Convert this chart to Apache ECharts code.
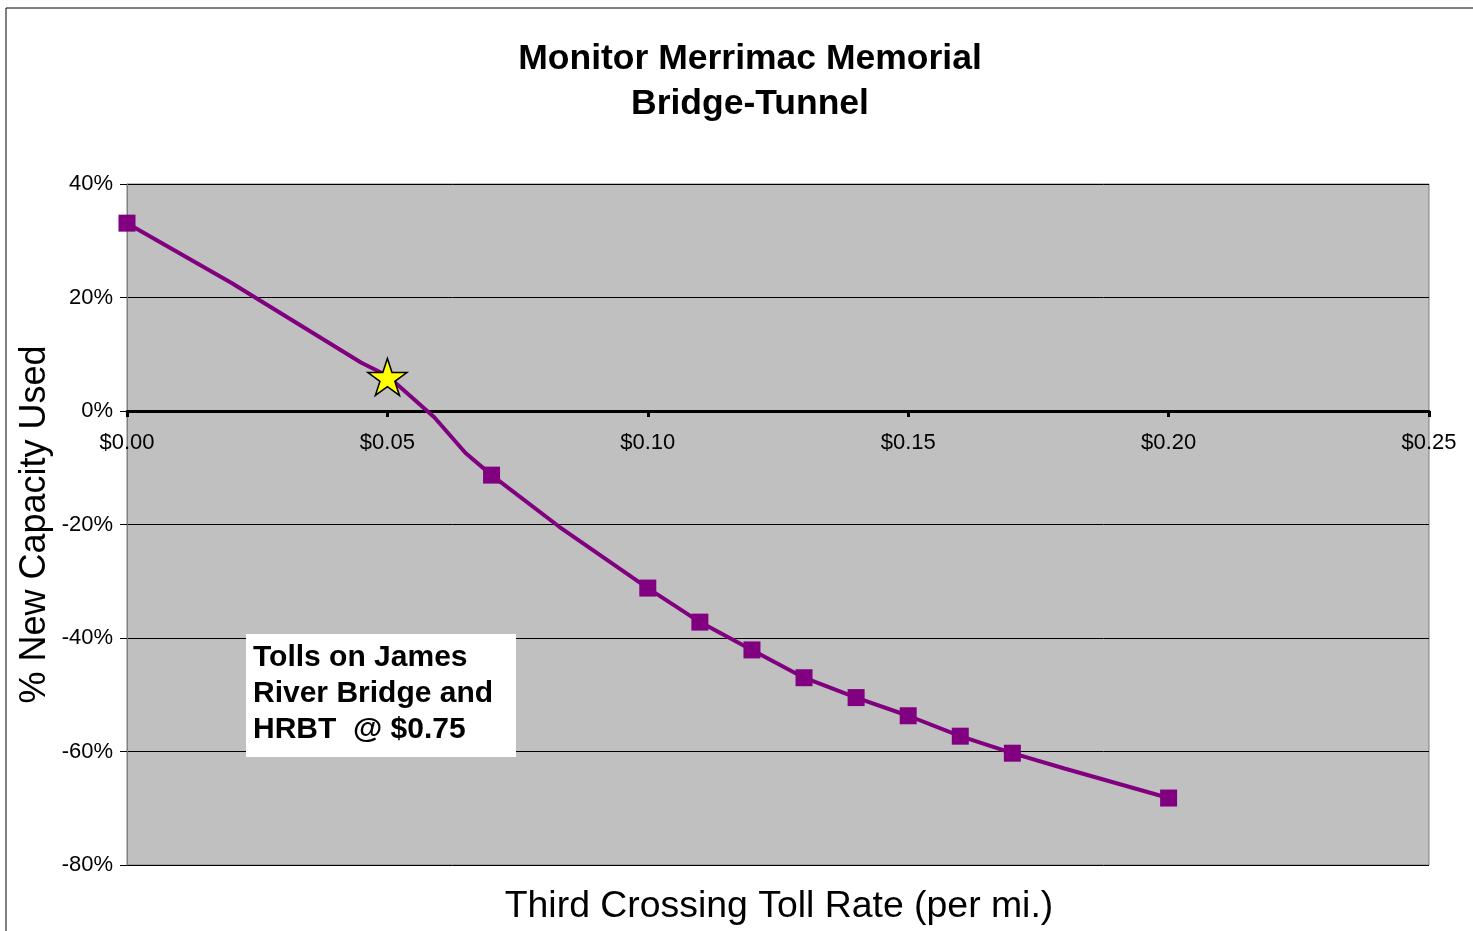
<!DOCTYPE html>
<html>
<head>
<meta charset="utf-8">
<script src="https://cdn.jsdelivr.net/npm/echarts@6/dist/echarts.min.js"></script>
<style>
html,body{margin:0;padding:0;background:#fff;}
#chart{width:1473px;height:931px;}
</style>
</head>
<body>
<div id="chart"></div>
<script>
// Toll rate ($ per mile) and % of new capacity used
const lineX = [0.00, 0.02, 0.045, 0.05, 0.059, 0.065, 0.07, 0.083, 0.10, 0.11, 0.12, 0.13, 0.14, 0.15, 0.16, 0.17, 0.18, 0.20];
const lineY = [33.1, 22.6, 8.5, 6.2, -1.1, -7.4, -11.3, -20.4, -31.2, -37.2, -42.1, -47.0, -50.5, -53.7, -57.3, -60.3, -63.0, -68.2];
const markerX = [0.00, 0.07, 0.10, 0.11, 0.12, 0.13, 0.14, 0.15, 0.16, 0.17, 0.20];
const markerY = [33.1, -11.3, -31.2, -37.2, -42.1, -47.0, -50.5, -53.7, -57.3, -60.3, -68.2];
const starX = [0.05];
const starY = [6.0];
const titleText = 'Monitor Merrimac Memorial\nBridge-Tunnel';
const xName = 'Third Crossing Toll Rate (per mi.)';
const yName = '% New Capacity Used';
const noteText = 'Tolls on James\nRiver Bridge and\nHRBT  @ $0.75';

const FONT = '"Liberation Sans", Arial, sans-serif';
const chart = echarts.init(document.getElementById('chart'));
const zip = (a, b) => a.map((v, i) => [v, b[i]]);

chart.setOption({
  animation: false,
  backgroundColor: '#fff',
  title: {
    text: titleText,
    left: 745, top: 32, textAlign: 'center',
    textStyle: { fontFamily: FONT, fontWeight: 'bold', fontSize: 35.5, lineHeight: 45, color: '#000' }
  },
  grid: {
    left: 127, top: 184, right: 44, bottom: 66,
    containLabel: false, outerBoundsMode: 'none',
    show: true, backgroundColor: '#C0C0C0', borderColor: '#808080', borderWidth: 1
  },
  xAxis: {
    type: 'value', min: 0, max: 0.25, interval: 0.05,
    position: 'bottom', offset: -454,
    axisLine: { show: true, onZero: false, lineStyle: { color: '#000', width: 3 } },
    axisTick: { show: true, inside: false, length: 6, lineStyle: { color: '#000', width: 3 } },
    axisLabel: { margin: 21, fontFamily: FONT, fontSize: 22, color: '#000',
      formatter: v => '$' + v.toFixed(2) },
    splitLine: { show: false }
  },
  yAxis: {
    type: 'value', min: -80, max: 40, interval: 20,
    axisLine: { show: true, onZero: false, lineStyle: { color: '#808080', width: 1 } },
    axisTick: { show: true, length: 7, lineStyle: { color: '#000', width: 1 } },
    axisLabel: { margin: 14, fontFamily: FONT, fontSize: 22, color: '#000',
      formatter: v => v + '%' },
    splitLine: { show: true, lineStyle: { color: '#000', width: 1 } },
    name: yName, nameLocation: 'middle', nameGap: 74, nameRotate: 90,
    nameMoveOverlap: false,
    nameTextStyle: { fontFamily: FONT, fontSize: 36, color: '#000' }
  },
  graphic: [
    { type: 'rect', silent: true, z: -10,
      shape: { x: 6, y: 8, width: 1500, height: 1000 },
      style: { fill: 'none', stroke: '#000', lineWidth: 1 } },
    { type: 'text', x: 779, y: 907, silent: true,
      style: { text: xName, fontFamily: FONT, fontSize: 37.4, fill: '#000', align: 'center', verticalAlign: 'middle' } },
    { type: 'rect', silent: true, z: 50,
      shape: { x: 246, y: 634, width: 270, height: 123 },
      style: { fill: '#fff' } },
    { type: 'text', left: 253, top: 640, silent: true, z: 51,
      style: { text: noteText, fontFamily: FONT, fontWeight: 'bold', fontSize: 30, lineHeight: 36, fill: '#000' } }
  ],
  series: [
    { type: 'line', data: zip(lineX, lineY), showSymbol: false, symbol: 'none',
      lineStyle: { color: '#800080', width: 4 }, z: 3 },
    { type: 'scatter', data: zip(markerX, markerY), symbol: 'rect', symbolSize: 17,
      itemStyle: { color: '#800080', opacity: 1 }, z: 4 },
    { type: 'scatter', data: zip(starX, starY),
      symbol: 'path://M0,-1 L0.2245,-0.309 L0.951,-0.309 L0.363,0.118 L0.588,0.809 L0,0.382 L-0.588,0.809 L-0.363,0.118 L-0.951,-0.309 L-0.2245,-0.309 Z',
      symbolSize: [39, 37],
      itemStyle: { color: '#FFFF00', borderColor: '#000', borderWidth: 1.5, opacity: 1 }, z: 5 }
  ]
});
</script>
</body>
</html>
